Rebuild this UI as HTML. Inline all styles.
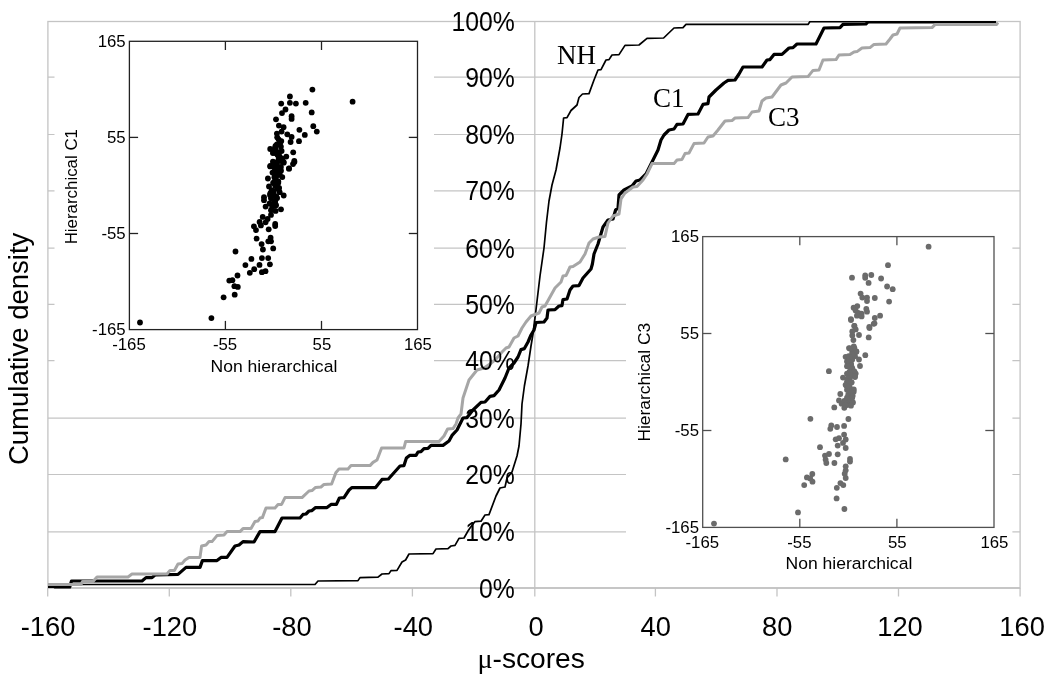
<!DOCTYPE html>
<html><head><meta charset="utf-8"><title>Cumulative density of mu-scores</title>
<style>
html,body{margin:0;padding:0;background:#fff;}
svg{display:block;}
text{font-family:"Liberation Sans",Arial,sans-serif;fill:#000;}
.ser{font-family:"Liberation Serif","Times New Roman",serif;}
</style></head><body>
<svg width="1050" height="679" viewBox="0 0 1050 679">
<rect width="1050" height="679" fill="#fff"/>
<g stroke="#c4c4c4" stroke-width="1.2" fill="none">
<line x1="47.9" x2="1020.1" y1="531.9" y2="531.9"/>
<line x1="47.9" x2="1020.1" y1="474.5" y2="474.5"/>
<line x1="47.9" x2="1020.1" y1="418.2" y2="418.2"/>
<line x1="47.9" x2="1020.1" y1="360.7" y2="360.7"/>
<line x1="47.9" x2="1020.1" y1="304.4" y2="304.4"/>
<line x1="47.9" x2="1020.1" y1="248.2" y2="248.2"/>
<line x1="47.9" x2="1020.1" y1="190.9" y2="190.9"/>
<line x1="47.9" x2="1020.1" y1="134.5" y2="134.5"/>
<line x1="47.9" x2="1020.1" y1="77.2" y2="77.2"/>
</g>
<rect x="54.5" y="30" width="379.5" height="352" fill="#fff"/>
<rect x="626" y="222" width="386.4" height="345" fill="#fff"/>
<g stroke="#c4c4c4" stroke-width="1.3" fill="none">
<rect x="47.9" y="21.5" width="972.2" height="566.5"/>
<line x1="534.8" x2="534.8" y1="21.5" y2="588"/>
<line x1="47.7" x2="47.7" y1="588" y2="596.5"/>
<line x1="169.3" x2="169.3" y1="588" y2="596.5"/>
<line x1="290.8" x2="290.8" y1="588" y2="596.5"/>
<line x1="412.4" x2="412.4" y1="588" y2="596.5"/>
<line x1="534.8" x2="534.8" y1="588" y2="596.5"/>
<line x1="655.4" x2="655.4" y1="588" y2="596.5"/>
<line x1="777.0" x2="777.0" y1="588" y2="596.5"/>
<line x1="898.5" x2="898.5" y1="588" y2="596.5"/>
<line x1="1020.1" x2="1020.1" y1="588" y2="596.5"/>
</g>
<line x1="47.9" x2="1020.1" y1="588" y2="588" stroke="#c0c0c0" stroke-width="1.5"/>
<g stroke="#222" stroke-width="1.3" fill="none">
<rect x="129.4" y="41.3" width="288.1" height="288.3"/>
<line x1="225.4" x2="225.4" y1="41.3" y2="50.0"/>
<line x1="225.4" x2="225.4" y1="329.6" y2="320.90000000000003"/>
<line y1="233.5" y2="233.5" x1="129.4" x2="138.1"/>
<line y1="233.5" y2="233.5" x1="417.5" x2="408.8"/>
<line x1="321.5" x2="321.5" y1="41.3" y2="50.0"/>
<line x1="321.5" x2="321.5" y1="329.6" y2="320.90000000000003"/>
<line y1="137.4" y2="137.4" x1="129.4" x2="138.1"/>
<line y1="137.4" y2="137.4" x1="417.5" x2="408.8"/>
</g>
<g font-size="16.8">
<text text-anchor="middle" transform="translate(129.0 350.2)">-165</text>
<text text-anchor="end" transform="translate(125.7 334.9)">-165</text>
<text text-anchor="middle" transform="translate(225.0 350.2)">-55</text>
<text text-anchor="end" transform="translate(125.7 238.8)">-55</text>
<text text-anchor="middle" transform="translate(321.9 350.2)">55</text>
<text text-anchor="end" transform="translate(125.7 142.7)">55</text>
<text text-anchor="middle" transform="translate(417.9 350.2)">165</text>
<text text-anchor="end" transform="translate(125.7 46.6)">165</text>
<text text-anchor="middle" transform="translate(273.9 371.6) scale(1.045 1)">Non hierarchical</text>
<text text-anchor="middle" transform="translate(77.0 186.7) rotate(-90) scale(1.005 1)">Hierarchical C1</text>
</g>
<g fill="#000">
<circle cx="312.4" cy="89.6" r="2.9"/>
<circle cx="289.9" cy="96.5" r="2.9"/>
<circle cx="352.6" cy="101.7" r="2.9"/>
<circle cx="281.2" cy="103.6" r="2.9"/>
<circle cx="289.9" cy="102.8" r="2.9"/>
<circle cx="295.9" cy="103.6" r="2.9"/>
<circle cx="305.7" cy="102.8" r="2.9"/>
<circle cx="285.5" cy="109.5" r="2.9"/>
<circle cx="282" cy="113.1" r="2.9"/>
<circle cx="311.7" cy="112.4" r="2.9"/>
<circle cx="291.6" cy="116.2" r="2.9"/>
<circle cx="291.6" cy="118.9" r="2.9"/>
<circle cx="276" cy="119.3" r="2.9"/>
<circle cx="278.9" cy="125.6" r="2.9"/>
<circle cx="283.6" cy="127.2" r="2.9"/>
<circle cx="313.3" cy="126.2" r="2.9"/>
<circle cx="299.4" cy="129.8" r="2.9"/>
<circle cx="316.8" cy="131.6" r="2.9"/>
<circle cx="276.9" cy="133.6" r="2.9"/>
<circle cx="281.6" cy="131.6" r="2.9"/>
<circle cx="287.3" cy="134.3" r="2.9"/>
<circle cx="304.8" cy="134.9" r="2.9"/>
<circle cx="277.2" cy="137.3" r="2.9"/>
<circle cx="291.6" cy="136.9" r="2.9"/>
<circle cx="299" cy="141.2" r="2.9"/>
<circle cx="290.6" cy="142" r="2.9"/>
<circle cx="276.9" cy="144.3" r="2.9"/>
<circle cx="280.9" cy="146.6" r="2.9"/>
<circle cx="270.2" cy="149" r="2.9"/>
<circle cx="275.6" cy="149" r="2.9"/>
<circle cx="281.6" cy="151" r="2.9"/>
<circle cx="272.9" cy="153" r="2.9"/>
<circle cx="293.2" cy="152.3" r="2.9"/>
<circle cx="277.6" cy="155" r="2.9"/>
<circle cx="286.3" cy="156.6" r="2.9"/>
<circle cx="294.3" cy="161" r="2.9"/>
<circle cx="272.9" cy="161.7" r="2.9"/>
<circle cx="278.2" cy="160.4" r="2.9"/>
<circle cx="283.6" cy="162" r="2.9"/>
<circle cx="293" cy="164.1" r="2.9"/>
<circle cx="270.2" cy="166.4" r="2.9"/>
<circle cx="275.6" cy="165.7" r="2.9"/>
<circle cx="280.9" cy="167" r="2.9"/>
<circle cx="289" cy="168.4" r="2.9"/>
<circle cx="294.4" cy="162" r="2.9"/>
<circle cx="289" cy="168.7" r="2.9"/>
<circle cx="270.3" cy="166" r="2.9"/>
<circle cx="277" cy="164" r="2.9"/>
<circle cx="283.7" cy="162.7" r="2.9"/>
<circle cx="275.6" cy="169.4" r="2.9"/>
<circle cx="281" cy="170.7" r="2.9"/>
<circle cx="274.3" cy="173.4" r="2.9"/>
<circle cx="279.7" cy="174.7" r="2.9"/>
<circle cx="282.3" cy="177.1" r="2.9"/>
<circle cx="267.9" cy="178.5" r="2.9"/>
<circle cx="275.6" cy="178.8" r="2.9"/>
<circle cx="274.3" cy="182.1" r="2.9"/>
<circle cx="278.3" cy="182.8" r="2.9"/>
<circle cx="269" cy="186.4" r="2.9"/>
<circle cx="275.6" cy="186.1" r="2.9"/>
<circle cx="278.3" cy="188.8" r="2.9"/>
<circle cx="271.6" cy="190.1" r="2.9"/>
<circle cx="279.7" cy="192.2" r="2.9"/>
<circle cx="270.3" cy="193.5" r="2.9"/>
<circle cx="283.7" cy="195.5" r="2.9"/>
<circle cx="274.3" cy="195.5" r="2.9"/>
<circle cx="264" cy="197.2" r="2.9"/>
<circle cx="271" cy="198.2" r="2.9"/>
<circle cx="264" cy="200.2" r="2.9"/>
<circle cx="275" cy="202.2" r="2.9"/>
<circle cx="269.6" cy="203.5" r="2.9"/>
<circle cx="265.6" cy="206.6" r="2.9"/>
<circle cx="272.3" cy="206.9" r="2.9"/>
<circle cx="281" cy="209.3" r="2.9"/>
<circle cx="271" cy="210.2" r="2.9"/>
<circle cx="275.6" cy="210.9" r="2.9"/>
<circle cx="271" cy="214.9" r="2.9"/>
<circle cx="262.7" cy="216.9" r="2.9"/>
<circle cx="267.6" cy="219" r="2.9"/>
<circle cx="259.6" cy="222" r="2.9"/>
<circle cx="265.6" cy="222.3" r="2.9"/>
<circle cx="275.2" cy="224" r="2.9"/>
<circle cx="260.9" cy="225.4" r="2.9"/>
<circle cx="275.2" cy="226" r="2.9"/>
<circle cx="253.9" cy="226.3" r="2.9"/>
<circle cx="256" cy="230.1" r="2.9"/>
<circle cx="268.7" cy="229.3" r="2.9"/>
<circle cx="256.6" cy="238.6" r="2.9"/>
<circle cx="270.6" cy="237.7" r="2.9"/>
<circle cx="268.3" cy="241.3" r="2.9"/>
<circle cx="271" cy="241.3" r="2.9"/>
<circle cx="261.6" cy="244.1" r="2.9"/>
<circle cx="273.2" cy="248.4" r="2.9"/>
<circle cx="262.9" cy="249.5" r="2.9"/>
<circle cx="235.5" cy="251.5" r="2.9"/>
<circle cx="211.4" cy="318.1" r="2.9"/>
<circle cx="223.6" cy="297.3" r="2.9"/>
<circle cx="234.7" cy="294.7" r="2.9"/>
<circle cx="234.4" cy="286.2" r="2.9"/>
<circle cx="237.8" cy="286.9" r="2.9"/>
<circle cx="229.3" cy="280.6" r="2.9"/>
<circle cx="232.4" cy="280.2" r="2.9"/>
<circle cx="237.5" cy="275.5" r="2.9"/>
<circle cx="249.8" cy="272.8" r="2.9"/>
<circle cx="254.2" cy="269.2" r="2.9"/>
<circle cx="261.9" cy="272.2" r="2.9"/>
<circle cx="265.5" cy="271.2" r="2.9"/>
<circle cx="245.4" cy="265.1" r="2.9"/>
<circle cx="259.5" cy="264.9" r="2.9"/>
<circle cx="269.9" cy="264.3" r="2.9"/>
<circle cx="251.4" cy="258.9" r="2.9"/>
<circle cx="261.9" cy="258.1" r="2.9"/>
<circle cx="268.2" cy="258.1" r="2.9"/>
<circle cx="140" cy="322.5" r="2.9"/>
<circle cx="278.6" cy="139.3" r="2.9"/>
<circle cx="281.3" cy="141.1" r="2.9"/>
<circle cx="280.0" cy="143.6" r="2.9"/>
<circle cx="275.5" cy="145.9" r="2.9"/>
<circle cx="275.1" cy="147.7" r="2.9"/>
<circle cx="275.2" cy="148.9" r="2.9"/>
<circle cx="278.2" cy="152.4" r="2.9"/>
<circle cx="275.3" cy="153.1" r="2.9"/>
<circle cx="279.6" cy="156.5" r="2.9"/>
<circle cx="278.9" cy="157.3" r="2.9"/>
<circle cx="282.3" cy="158.6" r="2.9"/>
<circle cx="281.0" cy="161.0" r="2.9"/>
<circle cx="274.4" cy="162.6" r="2.9"/>
<circle cx="275.6" cy="166.0" r="2.9"/>
<circle cx="274.3" cy="167.5" r="2.9"/>
<circle cx="278.2" cy="169.0" r="2.9"/>
<circle cx="277.1" cy="170.3" r="2.9"/>
<circle cx="272.5" cy="172.6" r="2.9"/>
<circle cx="277.9" cy="175.0" r="2.9"/>
<circle cx="274.4" cy="177.2" r="2.9"/>
<circle cx="275.4" cy="178.6" r="2.9"/>
<circle cx="278.3" cy="181.3" r="2.9"/>
<circle cx="273.1" cy="183.0" r="2.9"/>
<circle cx="275.4" cy="185.6" r="2.9"/>
<circle cx="277.1" cy="186.4" r="2.9"/>
<circle cx="279.1" cy="188.0" r="2.9"/>
<circle cx="273.8" cy="191.2" r="2.9"/>
<circle cx="271.2" cy="192.6" r="2.9"/>
<circle cx="270.0" cy="194.9" r="2.9"/>
<circle cx="276.3" cy="196.7" r="2.9"/>
<circle cx="277.1" cy="198.1" r="2.9"/>
<circle cx="275.3" cy="200.6" r="2.9"/>
<circle cx="274.0" cy="202.3" r="2.9"/>
<circle cx="276.1" cy="205.2" r="2.9"/>
</g>
<g stroke="#505050" stroke-width="1.3" fill="none">
<rect x="702.7" y="236.6" width="291.3" height="290.8"/>
<line x1="799.8" x2="799.8" y1="236.6" y2="245.29999999999998"/>
<line x1="799.8" x2="799.8" y1="527.4" y2="518.6999999999999"/>
<line y1="430.5" y2="430.5" x1="702.7" x2="711.4000000000001"/>
<line y1="430.5" y2="430.5" x1="994.0" x2="985.3"/>
<line x1="896.9" x2="896.9" y1="236.6" y2="245.29999999999998"/>
<line x1="896.9" x2="896.9" y1="527.4" y2="518.6999999999999"/>
<line y1="333.5" y2="333.5" x1="702.7" x2="711.4000000000001"/>
<line y1="333.5" y2="333.5" x1="994.0" x2="985.3"/>
</g>
<g font-size="16.8">
<text text-anchor="middle" transform="translate(702.3 548.0)">-165</text>
<text text-anchor="end" transform="translate(699.0 532.7)">-165</text>
<text text-anchor="middle" transform="translate(799.4 548.0)">-55</text>
<text text-anchor="end" transform="translate(699.0 435.8)">-55</text>
<text text-anchor="middle" transform="translate(897.3 548.0)">55</text>
<text text-anchor="end" transform="translate(699.0 338.8)">55</text>
<text text-anchor="middle" transform="translate(994.4 548.0)">165</text>
<text text-anchor="end" transform="translate(699.0 241.9)">165</text>
<text text-anchor="middle" transform="translate(848.9 569.4) scale(1.045 1)">Non hierarchical</text>
<text text-anchor="middle" transform="translate(650.3 382.2) rotate(-90) scale(1.035 1)">Hierarchical C3</text>
</g>
<g fill="#6b6b6b">
<circle cx="928.6" cy="246.7" r="2.9"/>
<circle cx="888" cy="265.2" r="2.9"/>
<circle cx="852" cy="277.7" r="2.9"/>
<circle cx="865.2" cy="275.5" r="2.9"/>
<circle cx="865.2" cy="277.8" r="2.9"/>
<circle cx="871.3" cy="275" r="2.9"/>
<circle cx="881.1" cy="278.5" r="2.9"/>
<circle cx="868.6" cy="282.9" r="2.9"/>
<circle cx="887.1" cy="286.5" r="2.9"/>
<circle cx="892.7" cy="289.2" r="2.9"/>
<circle cx="860.6" cy="293.6" r="2.9"/>
<circle cx="862.3" cy="297.6" r="2.9"/>
<circle cx="867" cy="297.6" r="2.9"/>
<circle cx="867" cy="301" r="2.9"/>
<circle cx="874.8" cy="298" r="2.9"/>
<circle cx="889.1" cy="301.6" r="2.9"/>
<circle cx="853.6" cy="307.7" r="2.9"/>
<circle cx="857.3" cy="306.1" r="2.9"/>
<circle cx="855.6" cy="310.4" r="2.9"/>
<circle cx="866.3" cy="309" r="2.9"/>
<circle cx="867" cy="311.7" r="2.9"/>
<circle cx="858.3" cy="313" r="2.9"/>
<circle cx="861.6" cy="313.7" r="2.9"/>
<circle cx="856.9" cy="315.7" r="2.9"/>
<circle cx="861.6" cy="316.4" r="2.9"/>
<circle cx="850.9" cy="319.1" r="2.9"/>
<circle cx="880.1" cy="315.7" r="2.9"/>
<circle cx="874.8" cy="318" r="2.9"/>
<circle cx="873.7" cy="323.8" r="2.9"/>
<circle cx="854.3" cy="325.8" r="2.9"/>
<circle cx="869.3" cy="327" r="2.9"/>
<circle cx="851" cy="320" r="2.9"/>
<circle cx="874.5" cy="323.3" r="2.9"/>
<circle cx="869.5" cy="328" r="2.9"/>
<circle cx="854.4" cy="326" r="2.9"/>
<circle cx="855.7" cy="329.4" r="2.9"/>
<circle cx="852.3" cy="331.4" r="2.9"/>
<circle cx="859" cy="335" r="2.9"/>
<circle cx="852.3" cy="335.4" r="2.9"/>
<circle cx="868.7" cy="337.4" r="2.9"/>
<circle cx="853.4" cy="340.1" r="2.9"/>
<circle cx="849" cy="348.1" r="2.9"/>
<circle cx="854.4" cy="348.1" r="2.9"/>
<circle cx="856.4" cy="351.5" r="2.9"/>
<circle cx="852.3" cy="352.2" r="2.9"/>
<circle cx="865.3" cy="355.2" r="2.9"/>
<circle cx="845.6" cy="356.8" r="2.9"/>
<circle cx="855" cy="356.2" r="2.9"/>
<circle cx="859" cy="359.5" r="2.9"/>
<circle cx="852.3" cy="359.5" r="2.9"/>
<circle cx="847" cy="361.5" r="2.9"/>
<circle cx="851" cy="363.5" r="2.9"/>
<circle cx="860" cy="366" r="2.9"/>
<circle cx="847" cy="366.2" r="2.9"/>
<circle cx="852.3" cy="368.2" r="2.9"/>
<circle cx="828.9" cy="371.2" r="2.9"/>
<circle cx="849.7" cy="371.6" r="2.9"/>
<circle cx="847" cy="373.6" r="2.9"/>
<circle cx="855.7" cy="373.6" r="2.9"/>
<circle cx="853" cy="375.6" r="2.9"/>
<circle cx="843" cy="377.6" r="2.9"/>
<circle cx="849.7" cy="378.3" r="2.9"/>
<circle cx="855" cy="377" r="2.9"/>
<circle cx="847" cy="381.6" r="2.9"/>
<circle cx="851.7" cy="382.3" r="2.9"/>
<circle cx="846.3" cy="385.6" r="2.9"/>
<circle cx="849.7" cy="387" r="2.9"/>
<circle cx="847" cy="389.7" r="2.9"/>
<circle cx="853.7" cy="391.7" r="2.9"/>
<circle cx="840.3" cy="394" r="2.9"/>
<circle cx="848.3" cy="394.4" r="2.9"/>
<circle cx="847" cy="397.7" r="2.9"/>
<circle cx="851" cy="398.4" r="2.9"/>
<circle cx="839" cy="400.4" r="2.9"/>
<circle cx="844.3" cy="401" r="2.9"/>
<circle cx="849.7" cy="401.7" r="2.9"/>
<circle cx="853" cy="402.4" r="2.9"/>
<circle cx="841.6" cy="403.7" r="2.9"/>
<circle cx="847" cy="405" r="2.9"/>
<circle cx="851" cy="405.7" r="2.9"/>
<circle cx="834.3" cy="407.4" r="2.9"/>
<circle cx="844.3" cy="407.8" r="2.9"/>
<circle cx="810.4" cy="418.8" r="2.9"/>
<circle cx="848.4" cy="419" r="2.9"/>
<circle cx="831.3" cy="425.5" r="2.9"/>
<circle cx="830.3" cy="428.8" r="2.9"/>
<circle cx="837" cy="427" r="2.9"/>
<circle cx="844.1" cy="425.9" r="2.9"/>
<circle cx="844.1" cy="434.6" r="2.9"/>
<circle cx="835.7" cy="439.3" r="2.9"/>
<circle cx="839" cy="438.2" r="2.9"/>
<circle cx="845.7" cy="439.5" r="2.9"/>
<circle cx="843" cy="442.9" r="2.9"/>
<circle cx="837.7" cy="445.6" r="2.9"/>
<circle cx="845.7" cy="448" r="2.9"/>
<circle cx="820" cy="447.2" r="2.9"/>
<circle cx="829" cy="454" r="2.9"/>
<circle cx="825" cy="455.6" r="2.9"/>
<circle cx="837.7" cy="454.3" r="2.9"/>
<circle cx="785.7" cy="459.4" r="2.9"/>
<circle cx="825.6" cy="459.6" r="2.9"/>
<circle cx="826.3" cy="463" r="2.9"/>
<circle cx="834.4" cy="463" r="2.9"/>
<circle cx="850" cy="459" r="2.9"/>
<circle cx="850" cy="461.6" r="2.9"/>
<circle cx="845.7" cy="466.3" r="2.9"/>
<circle cx="845.7" cy="470.3" r="2.9"/>
<circle cx="844.7" cy="473.7" r="2.9"/>
<circle cx="845.7" cy="478" r="2.9"/>
<circle cx="812.3" cy="474" r="2.9"/>
<circle cx="806.9" cy="477.4" r="2.9"/>
<circle cx="810.2" cy="478.4" r="2.9"/>
<circle cx="812.5" cy="481.7" r="2.9"/>
<circle cx="804.2" cy="485.1" r="2.9"/>
<circle cx="840.4" cy="483.1" r="2.9"/>
<circle cx="843.3" cy="485.1" r="2.9"/>
<circle cx="836.8" cy="487.8" r="2.9"/>
<circle cx="836.6" cy="498.4" r="2.9"/>
<circle cx="844.4" cy="509" r="2.9"/>
<circle cx="798" cy="512.4" r="2.9"/>
<circle cx="714" cy="523.6" r="2.9"/>
<circle cx="853.8" cy="346.3" r="2.9"/>
<circle cx="849.8" cy="348.5" r="2.9"/>
<circle cx="854.9" cy="351.1" r="2.9"/>
<circle cx="856.3" cy="351.7" r="2.9"/>
<circle cx="852.2" cy="354.5" r="2.9"/>
<circle cx="848.7" cy="356.2" r="2.9"/>
<circle cx="849.8" cy="357.5" r="2.9"/>
<circle cx="848.6" cy="360.9" r="2.9"/>
<circle cx="849.0" cy="361.9" r="2.9"/>
<circle cx="851.2" cy="365.2" r="2.9"/>
<circle cx="848.2" cy="366.4" r="2.9"/>
<circle cx="852.2" cy="369.3" r="2.9"/>
<circle cx="854.4" cy="371.3" r="2.9"/>
<circle cx="849.3" cy="372.5" r="2.9"/>
<circle cx="849.9" cy="375.5" r="2.9"/>
<circle cx="855.0" cy="376.1" r="2.9"/>
<circle cx="847.8" cy="378.3" r="2.9"/>
<circle cx="848.1" cy="380.8" r="2.9"/>
<circle cx="851.1" cy="382.4" r="2.9"/>
<circle cx="845.6" cy="384.8" r="2.9"/>
<circle cx="848.7" cy="387.1" r="2.9"/>
<circle cx="853.8" cy="389.4" r="2.9"/>
<circle cx="849.6" cy="391.3" r="2.9"/>
<circle cx="850.9" cy="392.3" r="2.9"/>
<circle cx="852.7" cy="395.8" r="2.9"/>
<circle cx="852.2" cy="397.8" r="2.9"/>
<circle cx="847.7" cy="399.1" r="2.9"/>
<circle cx="844.9" cy="401.6" r="2.9"/>
<circle cx="844.3" cy="402.5" r="2.9"/>
<circle cx="845.4" cy="404.8" r="2.9"/>
</g>
<clipPath id="cp"><rect x="40" y="20.9" width="990" height="567.6"/></clipPath><g clip-path="url(#cp)">
<polyline points="48.0,584.5 315.0,584.5 318.0,581.0 358.0,580.6 360.0,577.6 378.0,577.2 382.0,574.0 389.0,573.6 391.0,570.6 397.0,570.4 402.0,562.0 405.6,560.0 409.0,554.0 433.0,553.6 436.0,549.0 448.0,548.6 451.0,546.0 455.0,545.4 459.0,538.4 464.0,538.0 468.0,531.0 470.0,528.0 475.0,521.6 481.0,521.2 485.0,515.0 489.0,514.6 496.0,496.0 500.0,488.0 505.0,487.0 507.0,478.0 512.0,472.0 517.0,456.0 519.0,446.0 521.0,424.0 522.0,404.0 524.4,386.0 528.0,366.0 531.0,346.0 533.0,334.0 534.4,322.0 535.0,318.0 540.0,276.0 544.0,248.0 546.5,222.0 549.0,201.0 552.0,185.0 556.0,170.0 560.0,148.0 562.0,134.0 563.6,118.0 567.0,117.6 571.0,110.5 577.0,105.0 579.0,97.5 582.5,94.0 589.0,93.6 594.0,80.0 598.0,70.0 601.0,69.6 606.0,60.0 609.0,59.6 612.0,55.0 619.0,54.6 625.0,45.4 639.0,45.0 647.0,38.4 663.6,38.0 674.0,28.0 683.0,27.6 686.0,24.4 808.0,24.4 810.0,21.6 996.0,21.6" fill="none" stroke="#000" stroke-width="1.7" stroke-linejoin="round"/>
<polyline points="48.0,586.4 54.5,586.4 55.5,587.7 69.5,587.7 71.5,581.0 142.0,581.0 146.0,577.6 152.0,577.6 155.0,575.0 178.0,574.4 186.0,567.4 200.0,567.4 202.4,560.6 217.0,560.6 221.0,557.4 227.0,557.4 235.0,546.0 239.0,545.0 243.0,541.6 254.0,542.0 260.0,531.6 275.0,531.6 282.0,518.0 300.0,518.0 303.0,514.4 306.0,514.0 309.0,511.0 312.0,510.6 315.6,507.6 327.0,507.6 331.0,504.4 336.4,504.4 339.4,498.0 344.0,497.6 349.0,490.0 352.0,487.6 375.6,487.6 382.0,479.4 388.4,479.0 400.0,466.0 404.0,465.6 406.4,458.0 409.6,455.4 416.0,455.4 418.0,452.0 421.0,451.6 424.0,448.6 428.0,448.4 431.0,445.4 443.0,445.4 449.0,441.0 452.0,435.4 457.0,430.0 460.0,424.0 463.0,418.0 467.0,417.6 473.0,410.0 481.0,402.4 485.0,402.0 490.0,396.4 494.0,395.6 499.0,390.0 505.0,378.0 509.0,368.0 514.0,363.0 518.0,357.0 521.0,349.6 524.4,348.6 528.0,342.0 531.0,335.0 534.0,330.0 536.0,322.5 544.0,322.0 547.0,318.0 548.0,310.0 555.0,309.6 559.0,306.0 562.0,305.6 563.0,299.6 567.0,299.0 570.0,290.0 573.0,286.0 579.0,285.6 583.0,278.0 591.0,269.0 592.4,264.0 594.0,254.0 598.0,244.0 603.0,227.0 608.0,220.0 613.0,219.0 615.6,210.0 618.0,208.0 619.0,195.0 624.0,190.0 632.0,186.0 636.0,181.0 640.0,180.0 646.0,174.0 652.0,162.0 658.0,150.0 661.0,140.0 664.0,135.0 669.0,130.0 674.0,129.0 677.0,124.4 683.0,124.0 688.0,114.4 698.0,114.0 703.0,104.4 708.0,103.6 709.0,97.0 716.0,90.0 724.0,83.0 728.0,80.4 735.0,80.0 739.0,74.0 743.0,67.0 762.0,67.0 767.0,60.0 770.0,59.6 774.0,54.4 782.0,54.4 789.0,48.0 793.0,47.6 797.0,44.0 816.0,44.0 824.0,28.0 840.0,27.6 843.0,24.4 866.0,24.0 868.0,21.8 996.0,21.8" fill="none" stroke="#000" stroke-width="3.2" stroke-linejoin="round"/>
<polyline points="48.0,584.6 81.0,584.6 82.5,581.5 93.0,581.5 97.0,577.0 128.0,577.0 132.0,574.0 167.0,574.0 170.0,570.4 174.4,570.4 178.0,564.0 182.0,563.6 185.0,560.0 189.0,557.4 200.0,557.4 201.6,546.0 206.0,545.0 209.0,541.6 212.0,541.6 217.0,535.6 224.0,535.0 227.0,531.6 240.0,531.6 243.0,528.6 251.0,528.6 255.0,521.4 258.0,521.0 260.0,518.0 262.4,517.6 266.0,508.0 275.0,508.0 278.0,504.6 281.6,504.4 285.0,497.6 302.0,497.6 309.0,491.0 312.0,490.6 315.6,487.4 321.0,487.0 324.0,484.4 331.6,484.0 336.0,472.4 339.0,469.0 348.0,469.0 351.0,465.6 370.0,465.6 373.0,462.4 377.0,460.0 381.6,448.0 404.0,448.0 405.6,441.6 439.0,441.6 444.0,436.0 447.6,429.0 453.0,428.6 456.0,424.0 458.0,418.0 461.0,414.0 463.0,398.0 465.0,392.0 469.0,380.0 473.0,375.0 477.0,370.0 484.0,368.0 490.0,364.0 496.0,359.0 502.0,352.0 506.0,348.0 509.0,347.0 514.0,338.0 518.0,336.0 522.0,328.0 526.0,322.0 531.0,316.0 539.0,313.0 542.0,307.0 545.0,306.0 555.0,288.0 561.0,282.0 563.0,276.0 566.0,275.6 570.0,267.0 573.0,266.6 580.0,262.0 585.0,254.0 589.0,243.0 593.0,239.0 599.0,237.0 605.0,236.4 608.0,223.0 613.0,216.0 619.0,214.0 621.0,199.0 625.0,193.0 633.0,187.0 637.0,186.6 643.0,180.0 647.0,174.0 652.0,163.6 674.0,163.6 677.0,160.0 682.0,159.4 685.0,153.6 689.0,153.0 694.0,143.6 704.0,143.0 708.0,137.0 713.0,136.0 718.0,130.0 725.0,121.0 732.0,120.6 735.0,118.0 748.0,117.6 752.0,112.0 759.0,111.0 762.0,101.0 766.0,98.0 772.0,97.0 781.0,85.0 786.0,83.0 792.0,77.0 808.0,76.6 813.0,70.4 819.0,70.0 823.0,60.0 836.0,59.6 839.0,55.0 850.0,54.6 854.0,52.0 857.0,51.6 862.0,48.0 870.0,47.6 874.0,44.4 886.0,44.0 890.0,39.0 893.0,35.0 897.0,34.0 900.0,28.0 932.0,27.6 935.0,24.6 996.4,24.6 998.0,22.5" fill="none" stroke="#a6a6a6" stroke-width="3.0" stroke-linejoin="round"/>
</g>
<g font-size="26.8" text-anchor="end">
<text transform="translate(514.9 597.5) scale(0.925 1)">0%</text>
<text transform="translate(514.9 541.4) scale(0.925 1)">10%</text>
<text transform="translate(514.9 484.0) scale(0.925 1)">20%</text>
<text transform="translate(514.9 427.7) scale(0.925 1)">30%</text>
<text transform="translate(514.9 370.2) scale(0.925 1)">40%</text>
<text transform="translate(514.9 313.9) scale(0.925 1)">50%</text>
<text transform="translate(514.9 257.7) scale(0.925 1)">60%</text>
<text transform="translate(514.9 200.4) scale(0.925 1)">70%</text>
<text transform="translate(514.9 144.0) scale(0.925 1)">80%</text>
<text transform="translate(514.9 86.7) scale(0.925 1)">90%</text>
<text transform="translate(514.9 31.0) scale(0.925 1)">100%</text>
</g>
<g font-size="26.8" text-anchor="middle">
<text transform="translate(48.1 636) scale(1.02 1)">-160</text>
<text transform="translate(169.9 636) scale(1.02 1)">-120</text>
<text transform="translate(291.9 636) scale(1.02 1)">-80</text>
<text transform="translate(413.3 636) scale(1.02 1)">-40</text>
<text transform="translate(536.0 636) scale(1.02 1)">0</text>
<text transform="translate(655.8 636) scale(1.02 1)">40</text>
<text transform="translate(777.2 636) scale(1.02 1)">80</text>
<text transform="translate(900.0 636) scale(1.02 1)">120</text>
<text transform="translate(1022.1 636) scale(1.02 1)">160</text>
</g>
<text font-size="27.5" transform="translate(477.4 668) scale(1.025 1)"><tspan class="ser">μ</tspan>-scores</text>
<text font-size="27.5" text-anchor="middle" transform="translate(27.8 348.9) rotate(-90)">Cumulative density</text>
<g class="ser" font-size="27">
<text class="ser" x="557" y="64.4">NH</text>
<text class="ser" x="653" y="107.4">C1</text>
<text class="ser" x="768" y="125.6">C3</text>
</g>
</svg></body></html>
